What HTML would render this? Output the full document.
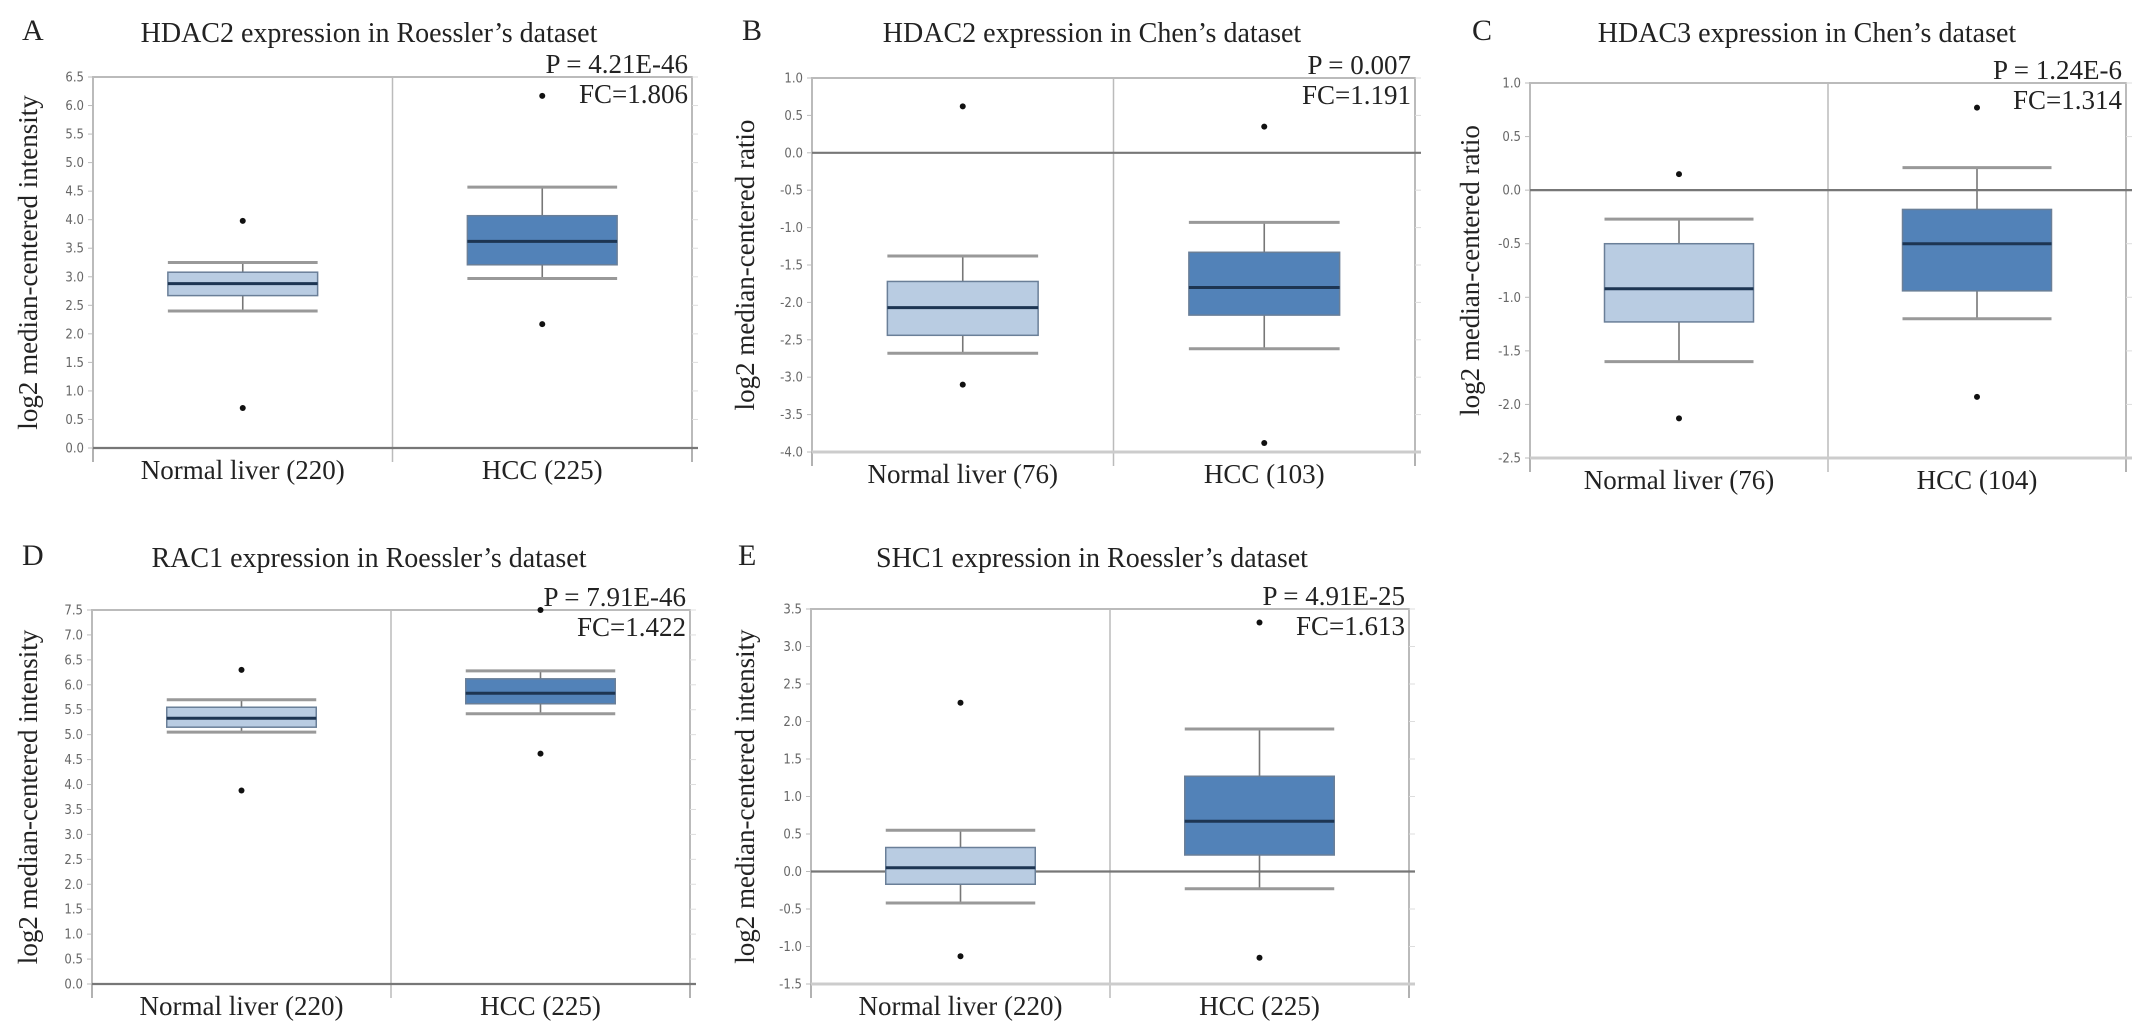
<!DOCTYPE html>
<html><head><meta charset="utf-8"><style>
html,body{margin:0;padding:0;background:#fff;}
svg{display:block;}
</style></head><body>
<svg id="fig" width="2150" height="1035" xmlns="http://www.w3.org/2000/svg"></svg>
<script>
const panelLetters=["A","B","C","D","E"];
const panelTitles=["HDAC2 expression in Roessler\u2019s dataset","HDAC2 expression in Chen\u2019s dataset","HDAC3 expression in Chen\u2019s dataset","RAC1 expression  in Roessler\u2019s dataset","SHC1 expression in Roessler\u2019s dataset"];
const pValues=["P = 4.21E-46","P = 0.007","P = 1.24E-6","P = 7.91E-46","P = 4.91E-25"];
const fcValues=["FC=1.806","FC=1.191","FC=1.314","FC=1.422","FC=1.613"];
const yTitles=["log2 median-centered intensity","log2 median-centered ratio","log2 median-centered ratio","log2 median-centered intensity","log2 median-centered intensity"];
const yMins=[0,-4,-2.5,0,-1.5];
const yMaxs=[6.5,1,1,7.5,3.5];
const categories=[["Normal liver (220)","HCC (225)"],["Normal liver (76)","HCC (103)"],["Normal liver (76)","HCC (104)"],["Normal liver (220)","HCC (225)"],["Normal liver (220)","HCC (225)"]];
// [whiskerLow, q1, median, q3, whiskerHigh]
const normalStats=[[2.4,2.67,2.88,3.08,3.25],[-2.68,-2.44,-2.07,-1.72,-1.38],[-1.6,-1.23,-0.92,-0.5,-0.27],[5.05,5.15,5.33,5.55,5.7],[-0.42,-0.17,0.05,0.32,0.55]];
const hccStats=[[2.97,3.21,3.62,4.07,4.57],[-2.62,-2.17,-1.8,-1.33,-0.93],[-1.2,-0.94,-0.5,-0.18,0.21],[5.42,5.62,5.83,6.12,6.28],[-0.23,0.22,0.67,1.27,1.9]];
const normalOutliers=[[3.98,0.7],[0.62,-3.1],[0.15,-2.13],[6.3,3.88],[2.25,-1.13]];
const hccOutliers=[[6.17,2.17],[0.35,-3.88],[0.77,-1.93],[7.5,4.62],[3.32,-1.15]];

// layout (not data)
const L=[
 {x0:93,x1:692,y0:77,y1:448,lx:22,ty:42,tx:369,ytx:28},
 {x0:812,x1:1415,y0:78,y1:452,lx:742,ty:42,tx:1092,ytx:745},
 {x0:1530,x1:2126,y0:83,y1:458,lx:1472,ty:42,tx:1807,ytx:1470},
 {x0:92,x1:690,y0:610,y1:984,lx:22,ty:567,tx:369,ytx:28},
 {x0:811,x1:1409,y0:609,y1:984,lx:738,ty:567,tx:1092,ytx:745}
];
const NS="http://www.w3.org/2000/svg";
const svg=document.getElementById('fig');
function mk(tag,attrs,parent,text){const e=document.createElementNS(NS,tag);for(const k in attrs)e.setAttribute(k,attrs[k]);if(text!==undefined)e.textContent=text;(parent||svg).appendChild(e);return e;}
const serif='"Liberation Serif", serif';
const sans='"DejaVu Sans Condensed", "DejaVu Sans", sans-serif';

for(let p=0;p<5;p++){
  const g=mk('g',{});
  
  
  const l=L[p];
  const yS=v=>l.y1-(v-yMins[p])/(yMaxs[p]-yMins[p])*(l.y1-l.y0);
  const half=(l.x1-l.x0)/2;
  let t=mk('text',{x:l.lx,y:l.ty-2,'font-family':serif,'font-size':30,fill:'#222'},g,panelLetters[p]);
  
  t=mk('text',{x:l.tx,y:l.ty,'font-family':serif,'font-size':28,fill:'#222','text-anchor':'middle'},g,panelTitles[p]);
  
  t=mk('text',{x:l.x1-4,y:l.y0-4,'font-family':serif,'font-size':27,fill:'#222','text-anchor':'end'},g,pValues[p]);
  
  t=mk('text',{x:l.x1-4,y:l.y0+26,'font-family':serif,'font-size':27,fill:'#222','text-anchor':'end'},g,fcValues[p]);
  
  let r=mk('rect',{x:l.x0,y:l.y0,width:l.x1-l.x0,height:l.y1-l.y0,fill:'none',stroke:'#bbb','stroke-width':2},g);
  
  mk('line',{x1:l.x0+half,x2:l.x0+half,y1:l.y0,y2:l.y1+14,stroke:'#bbb','stroke-width':1.5},g);
  mk('line',{x1:l.x0,x2:l.x0,y1:l.y1,y2:l.y1+14,stroke:'#999','stroke-width':1.5},g);
  mk('line',{x1:l.x1,x2:l.x1,y1:l.y1,y2:l.y1+14,stroke:'#999','stroke-width':1.5},g);
  for(let v=yMins[p];v<=yMaxs[p]+1e-9;v+=0.5){
    const y=yS(v);
    t=mk('text',{x:l.x0-9,y:y+4.5,'font-family':sans,'font-size':13,fill:'#666','text-anchor':'end'},g,v.toFixed(1));
    
    mk('line',{x1:l.x0-5,x2:l.x0,y1:y,y2:y,stroke:'#bbb'},g);
    mk('line',{x1:l.x1,x2:l.x1+6,y1:y,y2:y,stroke:'#ddd'},g);
  }
  if(yMins[p]<=0&&yMaxs[p]>=0){
    const l0=mk('line',{x1:l.x0,x2:l.x1+6,y1:yS(0),y2:yS(0),stroke:'#777','stroke-width':2.2},g);
    
  }
  if(yMins[p]<0){mk('line',{x1:l.x0,x2:l.x1+6,y1:l.y1,y2:l.y1,stroke:'#ccc','stroke-width':3},g);}
  const cy=(l.y0+l.y1)/2;
  t=mk('text',{x:l.ytx+9,y:cy,'font-family':serif,'font-size':27,fill:'#222','text-anchor':'middle',transform:`rotate(-90 ${l.ytx+9} ${cy})`},g,yTitles[p]);
  
  const groups=[[normalStats[p],normalOutliers[p],'#b9cce2'],[hccStats[p],hccOutliers[p],'#5282b8']];
  groups.forEach((gr,i)=>{
    const s=gr[0];const cx=l.x0+half*(i+0.5);const bw=half*0.5;
    const bg=mk('g',{},g);
    
    
    mk('line',{x1:cx,x2:cx,y1:yS(s[0]),y2:yS(s[4]),stroke:'#777','stroke-width':1.6},bg);
    mk('line',{x1:cx-bw/2,x2:cx+bw/2,y1:yS(s[0]),y2:yS(s[0]),stroke:'#999','stroke-width':3},bg);
    mk('line',{x1:cx-bw/2,x2:cx+bw/2,y1:yS(s[4]),y2:yS(s[4]),stroke:'#999','stroke-width':3},bg);
    mk('rect',{x:cx-bw/2,y:yS(s[3]),width:bw,height:yS(s[1])-yS(s[3]),fill:gr[2],stroke:'#6a7f98','stroke-width':1.5},bg);
    mk('line',{x1:cx-bw/2,x2:cx+bw/2,y1:yS(s[2]),y2:yS(s[2]),stroke:'#1d3552','stroke-width':3},bg);
    gr[1].forEach(v=>{const c=mk('circle',{cx:cx,cy:yS(v),r:3,fill:'#111'},bg);
      });
    t=mk('text',{x:cx,y:l.y1+31,'font-family':serif,'font-size':27,fill:'#222','text-anchor':'middle'},g,categories[p][i]);
    
  });
}
</script>
</body></html>
